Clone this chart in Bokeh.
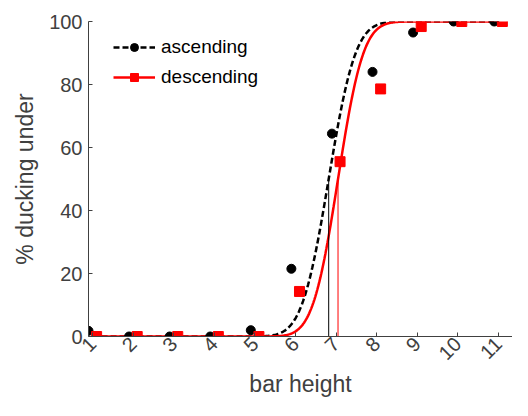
import math
import numpy as np
from bokeh.plotting import figure
from bokeh.models import Range1d, FixedTicker, Legend, LegendItem
from bokeh.embed import file_html
from bokeh.resources import INLINE

# ---- data ----
bar_height = [1, 2, 3, 4, 5, 6, 7, 8, 9, 10, 11]
ascending = [1.8, 0, 0, 0, 2, 21.5, 64.4, 84, 96.5, 100, 100]
descending = [0, 0, 0, 0, 0, 14.3, 55.5, 78.6, 98.4, 100, 100]
# fitted cumulative-normal parameters (threshold, spread)
asc_mu, asc_sigma = 6.82, 0.52
desc_mu, desc_sigma = 7.05, 0.49
x_ticks = [1, 2, 3, 4, 5, 6, 7, 8, 9, 10, 11]
y_ticks = [0, 20, 40, 60, 80, 100]

offset = 0.1
xa = [v - offset for v in bar_height]
xd = [v + offset for v in bar_height]

xs = np.linspace(1, 11, 400)
def cdf(x, mu, s):
    return np.array([50.0 * (1 + math.erf((v - mu) / (s * math.sqrt(2)))) for v in x])

FONT = "Liberation Sans"
GREY = "#404040"

p = figure(width=512, height=400, output_backend="svg", toolbar_location=None,
           x_range=Range1d(0.9, 11.35), y_range=Range1d(0, 100),
           min_border_left=88, min_border_right=0, min_border_top=21, min_border_bottom=60)
p.outline_line_color = None
p.grid.visible = False

r_ac = p.line(xs, cdf(xs, asc_mu, asc_sigma), line_color="black", line_width=2.5, line_dash="6 3")
r_dc = p.line(xs, cdf(xs, desc_mu, desc_sigma), line_color="red", line_width=2.5)
p.segment(x0=[asc_mu], y0=[0], x1=[asc_mu], y1=[50], line_color="black", line_width=1)
p.segment(x0=[desc_mu], y0=[0], x1=[desc_mu], y1=[50], line_color="red", line_width=1)
r_ap = p.scatter(xa, ascending, marker="circle", size=9, fill_color="black", line_color="black")
r_dp = p.scatter(xd, descending, marker="square", size=10, fill_color="red", line_color="red")

legend = Legend(items=[LegendItem(label="ascending", renderers=[r_ac, r_ap]),
                       LegendItem(label="descending", renderers=[r_dc, r_dp])],
                location=(25, 248), padding=8, spacing=8, glyph_width=42, glyph_height=20,
                label_text_font=FONT, label_text_font_size="19px", label_text_color="black",
                label_standoff=6, border_line_color=None, background_fill_alpha=0)
p.add_layout(legend)

for ax in (p.xaxis[0], p.yaxis[0]):
    ax.axis_line_color = GREY
    ax.major_tick_line_color = GREY
    ax.major_tick_in = 4
    ax.major_tick_out = 0
    ax.minor_tick_line_color = None
    ax.major_label_text_font = FONT
    ax.major_label_text_font_size = "20px"
    ax.major_label_text_color = GREY
    ax.axis_label_text_font = FONT
    ax.axis_label_text_font_size = "23px"
    ax.axis_label_text_color = GREY
    ax.axis_label_text_font_style = "normal"

p.xaxis.ticker = FixedTicker(ticks=x_ticks)
p.yaxis.ticker = FixedTicker(ticks=y_ticks)
p.xaxis.major_label_orientation = math.pi / 4
p.xaxis.axis_label = "bar height"
p.yaxis.axis_label = "% ducking under"
p.xaxis.major_label_standoff = 4
p.yaxis.major_label_standoff = 6
p.xaxis.axis_label_standoff = 2
p.yaxis.axis_label_standoff = 8

open("out.html", "w").write(file_html(p, INLINE))
